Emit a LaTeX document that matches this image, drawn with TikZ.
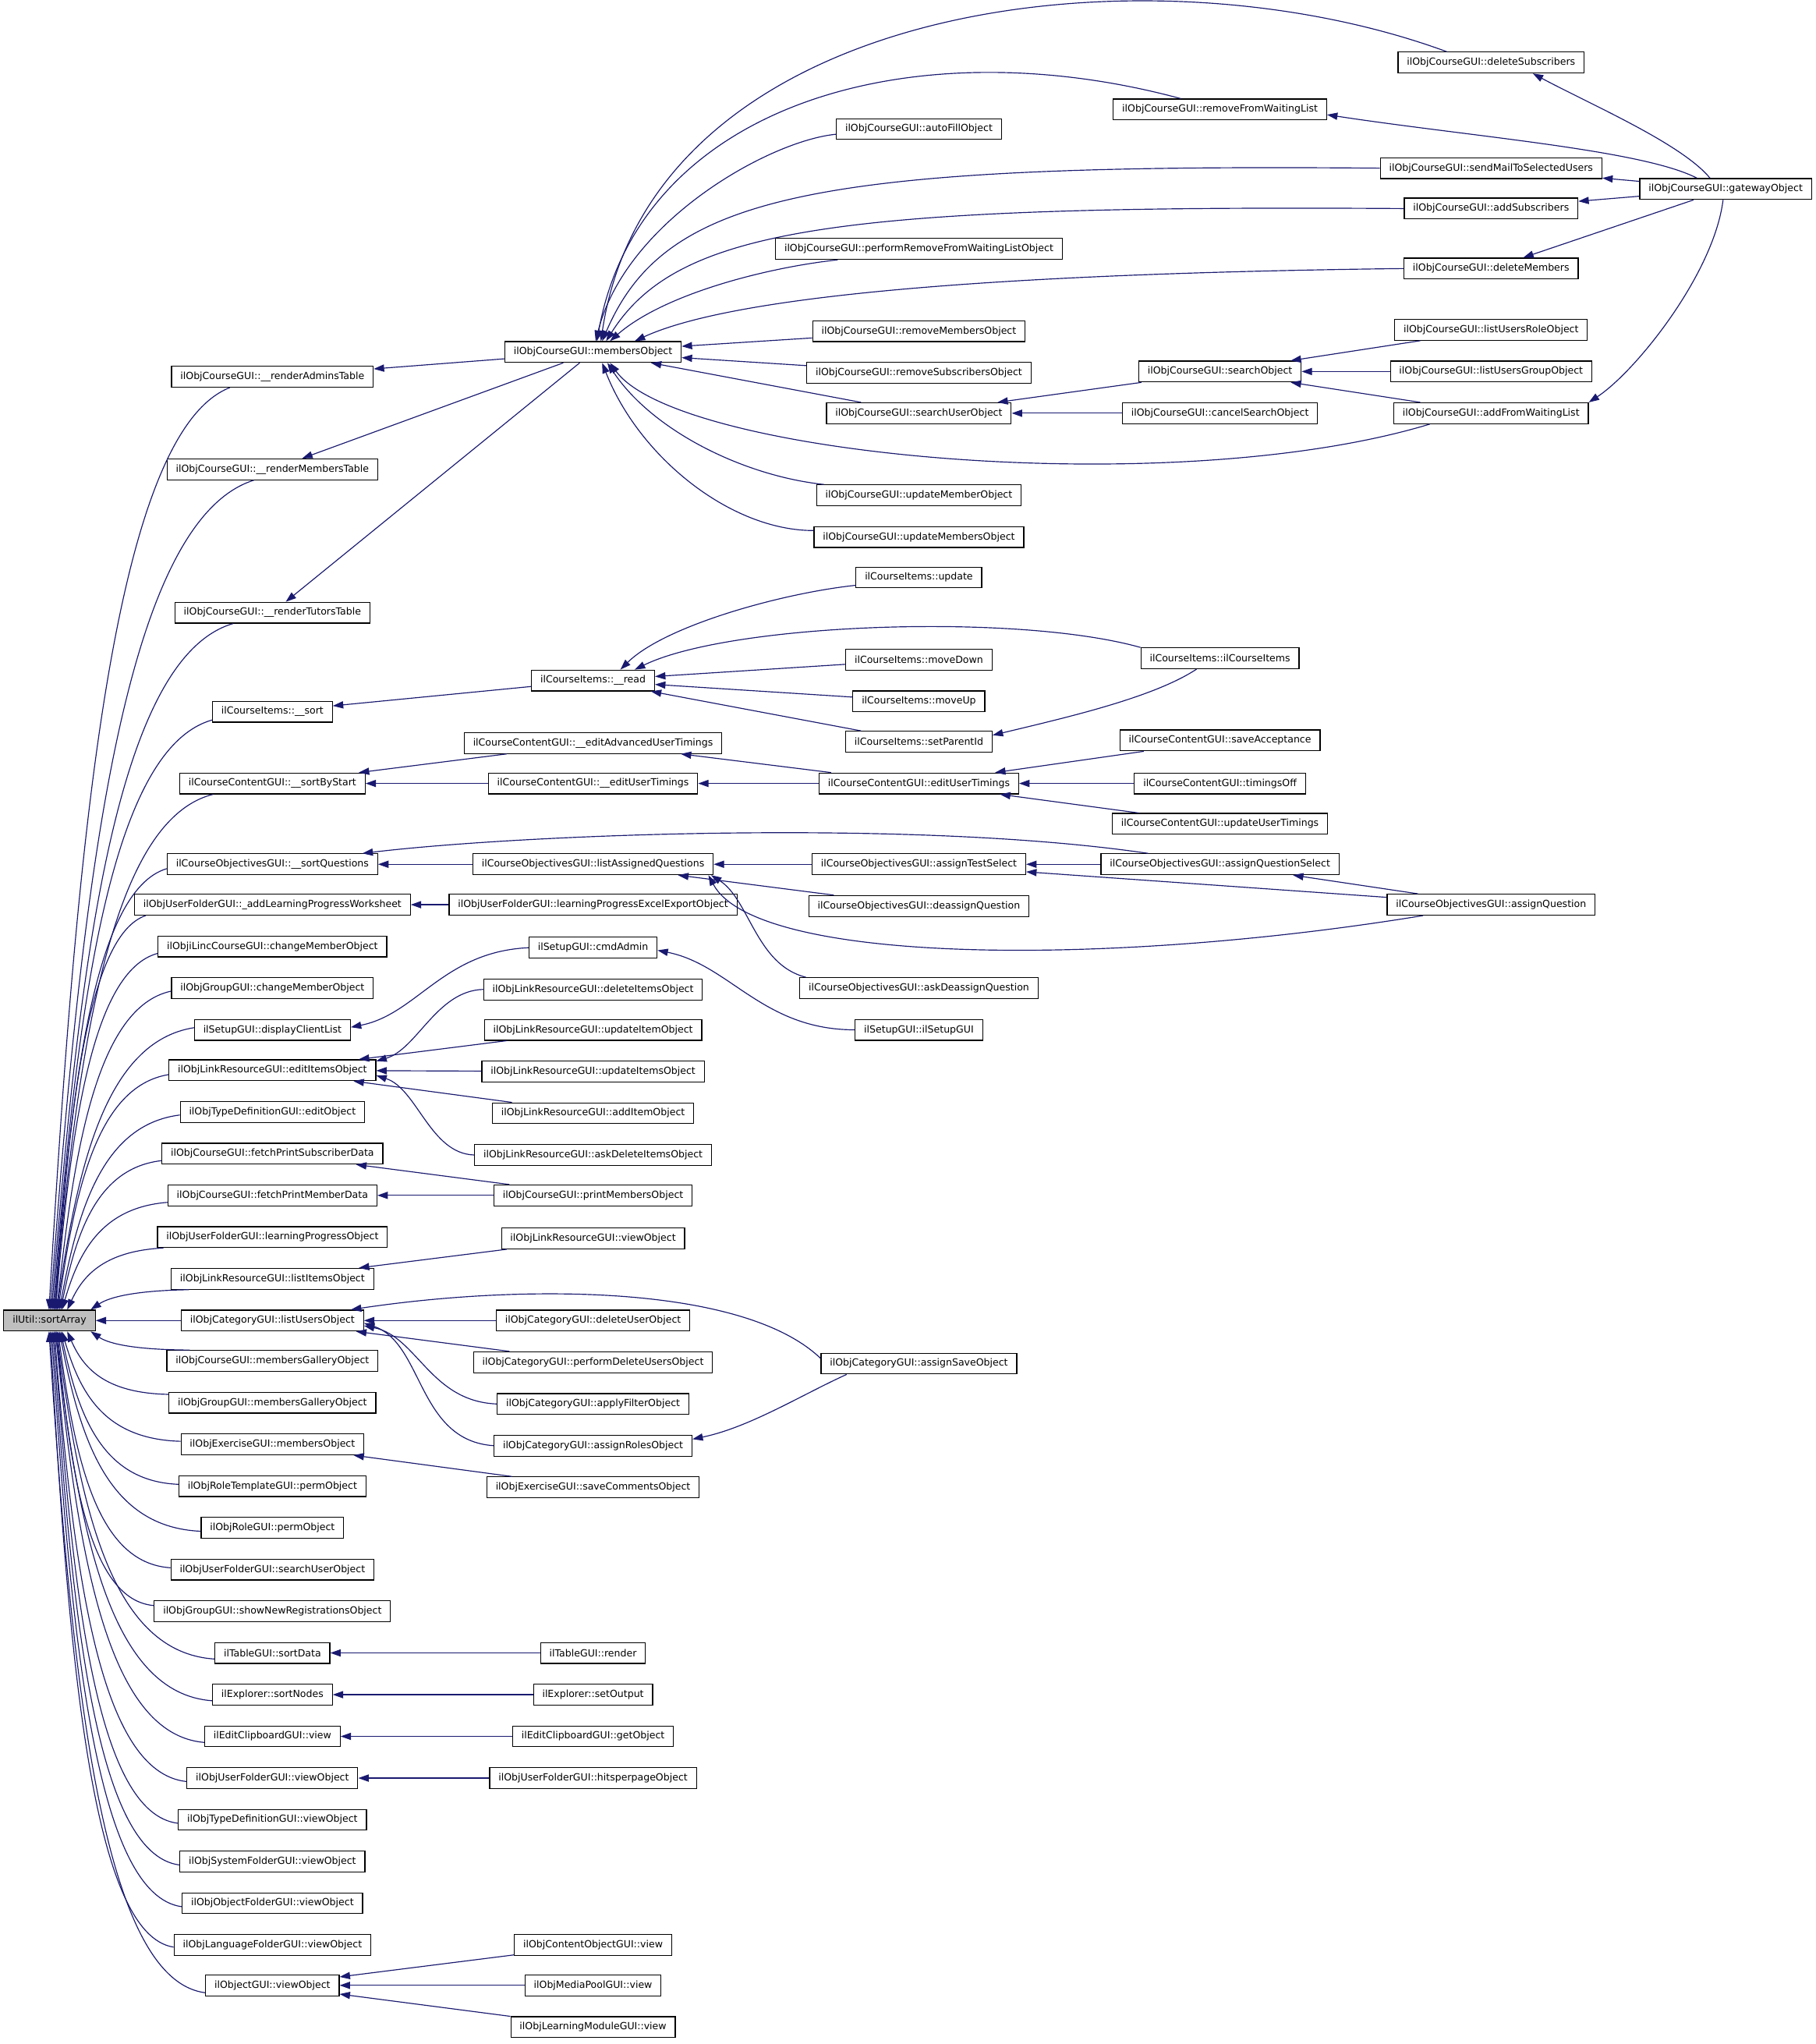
\documentclass[tikz,border=0pt]{standalone}
\usepackage{fontspec}
\setmainfont{DejaVu Sans}
\usetikzlibrary{arrows.meta,calc}

\definecolor{edgeblue}{HTML}{191970}
\definecolor{focusgray}{HTML}{BFBFBF}

\begin{document}
\begin{tikzpicture}[
  x=1pt, y=1pt,
  >={Triangle[length=8pt,width=5.5pt]},
  fn/.style    = {draw=black, line width=0.7pt, fill=white, inner xsep=6.8pt,
                  inner ysep=2pt, minimum height=16pt,
                  font=\fontsize{7.5}{9}\selectfont},
  focus/.style = {fn, fill=focusgray},
  call/.style  = {<-, draw=edgeblue, line width=0.7pt},
]

\fill[white] (0,0) rectangle (1393,-1568);
\useasboundingbox (0,0) rectangle (1393,-1568);

%% the function itself
\node[focus] (sortArray) at (38,-1013) {ilUtil::sortArray};

%% direct callers
\node[fn] (adminsTable)      at (209,-289)  {ilObjCourseGUI::\_\_renderAdminsTable};
\node[fn] (membersTable)     at (209,-360)  {ilObjCourseGUI::\_\_renderMembersTable};
\node[fn] (tutorsTable)      at (209,-470)  {ilObjCourseGUI::\_\_renderTutorsTable};
\node[fn] (itemsSort)        at (209,-546)  {ilCourseItems::\_\_sort};
\node[fn] (sortByStart)      at (209,-601)  {ilCourseContentGUI::\_\_sortByStart};
\node[fn] (sortQuestions)    at (209,-663)  {ilCourseObjectivesGUI::\_\_sortQuestions};
\node[fn] (addWorksheet)     at (209,-694)  {ilObjUserFolderGUI::\_addLearningProgressWorksheet};
\node[fn] (lincChange)       at (209,-726)  {ilObjiLincCourseGUI::changeMemberObject};
\node[fn] (groupChange)      at (209,-758)  {ilObjGroupGUI::changeMemberObject};
\node[fn] (clientList)       at (209,-790)  {ilSetupGUI::displayClientList};
\node[fn] (editItems)        at (209,-821)  {ilObjLinkResourceGUI::editItemsObject};
\node[fn] (typeEdit)         at (209,-853)  {ilObjTypeDefinitionGUI::editObject};
\node[fn] (printSubscriber)  at (209,-885)  {ilObjCourseGUI::fetchPrintSubscriberData};
\node[fn] (printMember)      at (209,-917)  {ilObjCourseGUI::fetchPrintMemberData};
\node[fn] (progressObject)   at (209,-949)  {ilObjUserFolderGUI::learningProgressObject};
\node[fn] (listItems)        at (209,-981)  {ilObjLinkResourceGUI::listItemsObject};
\node[fn] (listUsers)        at (209,-1013) {ilObjCategoryGUI::listUsersObject};
\node[fn] (courseGallery)    at (209,-1044) {ilObjCourseGUI::membersGalleryObject};
\node[fn] (groupGallery)     at (209,-1076) {ilObjGroupGUI::membersGalleryObject};
\node[fn] (exerciseMembers)  at (209,-1108) {ilObjExerciseGUI::membersObject};
\node[fn] (roleTemplatePerm) at (209,-1140) {ilObjRoleTemplateGUI::permObject};
\node[fn] (rolePerm)         at (209,-1172) {ilObjRoleGUI::permObject};
\node[fn] (folderSearch)     at (209,-1204) {ilObjUserFolderGUI::searchUserObject};
\node[fn] (newRegistrations) at (209,-1236) {ilObjGroupGUI::showNewRegistrationsObject};
\node[fn] (sortData)         at (209,-1268) {ilTableGUI::sortData};
\node[fn] (sortNodes)        at (209,-1300) {ilExplorer::sortNodes};
\node[fn] (clipboardView)    at (209,-1332) {ilEditClipboardGUI::view};
\node[fn] (folderView)       at (209,-1364) {ilObjUserFolderGUI::viewObject};
\node[fn] (typeView)         at (209,-1396) {ilObjTypeDefinitionGUI::viewObject};
\node[fn] (systemView)       at (209,-1428) {ilObjSystemFolderGUI::viewObject};
\node[fn] (objectFolderView) at (209,-1460) {ilObjObjectFolderGUI::viewObject};
\node[fn] (languageView)     at (209,-1492) {ilObjLanguageFolderGUI::viewObject};
\node[fn] (objectView)       at (209,-1523) {ilObjectGUI::viewObject};

%% second rank
\node[fn] (membersObject)    at (455,-270)  {ilObjCourseGUI::membersObject};
\node[fn] (itemsRead)        at (455,-522)  {ilCourseItems::\_\_read};
\node[fn] (editAdvanced)     at (455,-570)  {ilCourseContentGUI::\_\_editAdvancedUserTimings};
\node[fn] (editTimingsPriv)  at (455,-601)  {ilCourseContentGUI::\_\_editUserTimings};
\node[fn] (listAssigned)     at (455,-663)  {ilCourseObjectivesGUI::listAssignedQuestions};
\node[fn] (excelExport)      at (455,-694)  {ilObjUserFolderGUI::learningProgressExcelExportObject};
\node[fn] (cmdAdmin)         at (455,-727)  {ilSetupGUI::cmdAdmin};
\node[fn] (deleteItems)      at (455,-759)  {ilObjLinkResourceGUI::deleteItemsObject};
\node[fn] (updateItem)       at (455,-790)  {ilObjLinkResourceGUI::updateItemObject};
\node[fn] (updateItems)      at (455,-822)  {ilObjLinkResourceGUI::updateItemsObject};
\node[fn] (addItem)          at (455,-854)  {ilObjLinkResourceGUI::addItemObject};
\node[fn] (askDelete)        at (455,-886)  {ilObjLinkResourceGUI::askDeleteItemsObject};
\node[fn] (printMembers)     at (455,-917)  {ilObjCourseGUI::printMembersObject};
\node[fn] (linkView)         at (455,-950)  {ilObjLinkResourceGUI::viewObject};
\node[fn] (deleteUser)       at (455,-1013) {ilObjCategoryGUI::deleteUserObject};
\node[fn] (performDelete)    at (455,-1045) {ilObjCategoryGUI::performDeleteUsersObject};
\node[fn] (applyFilter)      at (455,-1077) {ilObjCategoryGUI::applyFilterObject};
\node[fn] (assignRoles)      at (455,-1109) {ilObjCategoryGUI::assignRolesObject};
\node[fn] (saveComments)     at (455,-1141) {ilObjExerciseGUI::saveCommentsObject};
\node[fn] (tableRender)      at (455,-1268) {ilTableGUI::render};
\node[fn] (setOutput)        at (455,-1300) {ilExplorer::setOutput};
\node[fn] (getObject)        at (455,-1332) {ilEditClipboardGUI::getObject};
\node[fn] (hitsPerPage)      at (455,-1364) {ilObjUserFolderGUI::hitsperpageObject};
\node[fn] (contentView)      at (455,-1492) {ilObjContentObjectGUI::view};
\node[fn] (mediaPoolView)    at (455,-1523) {ilObjMediaPoolGUI::view};
\node[fn] (moduleView)       at (455,-1555) {ilObjLearningModuleGUI::view};

%% third rank
\node[fn] (autoFill)         at (705,-99)   {ilObjCourseGUI::autoFillObject};
\node[fn] (performRemove)    at (705,-191)  {ilObjCourseGUI::performRemoveFromWaitingListObject};
\node[fn] (removeMembers)    at (705,-254)  {ilObjCourseGUI::removeMembersObject};
\node[fn] (removeSubscribers) at (705,-286) {ilObjCourseGUI::removeSubscribersObject};
\node[fn] (searchUser)       at (705,-317)  {ilObjCourseGUI::searchUserObject};
\node[fn] (updateMember)     at (705,-380)  {ilObjCourseGUI::updateMemberObject};
\node[fn] (updateMembers)    at (705,-412)  {ilObjCourseGUI::updateMembersObject};
\node[fn] (itemsUpdate)      at (705,-443)  {ilCourseItems::update};
\node[fn] (moveDown)         at (705,-506)  {ilCourseItems::moveDown};
\node[fn] (moveUp)           at (705,-538)  {ilCourseItems::moveUp};
\node[fn] (setParent)        at (705,-569)  {ilCourseItems::setParentId};
\node[fn] (editTimings)      at (705,-601)  {ilCourseContentGUI::editUserTimings};
\node[fn] (testSelect)       at (705,-663)  {ilCourseObjectivesGUI::assignTestSelect};
\node[fn] (deassign)         at (705,-695)  {ilCourseObjectivesGUI::deassignQuestion};
\node[fn] (askDeassign)      at (705,-758)  {ilCourseObjectivesGUI::askDeassignQuestion};
\node[fn] (setupGUI)         at (705,-790)  {ilSetupGUI::ilSetupGUI};
\node[fn] (assignSave)       at (705,-1046) {ilObjCategoryGUI::assignSaveObject};

%% fourth rank
\node[fn] (removeWaiting)    at (936,-84)   {ilObjCourseGUI::removeFromWaitingList};
\node[fn] (searchObject)     at (936,-285)  {ilObjCourseGUI::searchObject};
\node[fn] (cancelSearch)     at (936,-317)  {ilObjCourseGUI::cancelSearchObject};
\node[fn] (itemsCtor)        at (936,-505)  {ilCourseItems::ilCourseItems};
\node[fn] (saveAcceptance)   at (936,-568)  {ilCourseContentGUI::saveAcceptance};
\node[fn] (timingsOff)       at (936,-601)  {ilCourseContentGUI::timingsOff};
\node[fn] (updateTimings)    at (936,-632)  {ilCourseContentGUI::updateUserTimings};
\node[fn] (questionSelect)   at (936,-663)  {ilCourseObjectivesGUI::assignQuestionSelect};

%% fifth and sixth rank
\node[fn] (deleteSubscribers) at (1144,-48) {ilObjCourseGUI::deleteSubscribers};
\node[fn] (sendMail)         at (1144,-129) {ilObjCourseGUI::sendMailToSelectedUsers};
\node[fn] (addSubscribers)   at (1144,-160) {ilObjCourseGUI::addSubscribers};
\node[fn] (deleteMembers)    at (1144,-206) {ilObjCourseGUI::deleteMembers};
\node[fn] (listRole)         at (1144,-253) {ilObjCourseGUI::listUsersRoleObject};
\node[fn] (listGroup)        at (1144,-285) {ilObjCourseGUI::listUsersGroupObject};
\node[fn] (addWaiting)       at (1144,-317) {ilObjCourseGUI::addFromWaitingList};
\node[fn] (assignQuestion)   at (1144,-694) {ilCourseObjectivesGUI::assignQuestion};
\node[fn] (gateway)          at (1324,-145) {ilObjCourseGUI::gatewayObject};

%% the fan into sortArray, callers above
\foreach \tgt/\sx/\ox/\oy in {adminsTable/35/45/0, membersTable/36/67/0,
    tutorsTable/37/45/0, itemsSort/38/0/2, sortByStart/39/26/0,
    sortQuestions/39/0/5, addWorksheet/40/9/0, lincChange/40/0/3,
    groupChange/41/0/6, clientList/41/0/10, editItems/42/0/5,
    typeEdit/43/0/6, printSubscriber/44/0/3, printMember/45/0/3,
    progressObject/49/5/0, listItems/67/14/0}
  \draw[call] let \p1 = ([xshift=\sx pt]sortArray.north west),
                  \p2 = ([shift={(\ox pt,\oy pt)}]\tgt.south west)
              in (\p1) .. controls ({\x1+0.15*(\x2-\x1)}, {\y1+0.5*(\y2-\y1)})
                          and ({\x1+0.35*(\x2-\x1)}, {\y2-0.05*(\y2-\y1)}) .. (\p2);

%% the fan into sortArray, callers below
\foreach \tgt/\sx/\ox/\oy in {courseGallery/67/18/0, groupGallery/49/0/2,
    exerciseMembers/45/0/6, roleTemplatePerm/44/0/7, rolePerm/43/0/11,
    folderSearch/42/0/7, newRegistrations/41/0/4, sortData/41/0/13,
    sortNodes/40/0/13, clipboardView/40/0/13, folderView/39/0/11,
    typeView/39/0/11, systemView/38/0/11, objectFolderView/37/0/11,
    languageView/36/0/10, objectView/35/0/14}
  \draw[call] let \p1 = ([xshift=\sx pt]sortArray.south west),
                  \p2 = ([shift={(\ox pt,-\oy pt)}]\tgt.north west)
              in (\p1) .. controls ({\x1+0.15*(\x2-\x1)}, {\y1+0.55*(\y2-\y1)})
                          and ({\x1+0.35*(\x2-\x1)}, {\y2-0.02*(\y2-\y1)}) .. (\p2);

\draw[call] (sortArray) -- (listUsers);

%% straight calls
\draw[call] (adminsTable) -- (membersObject);
\draw[call] (membersTable) -- (membersObject);
\draw[call] (tutorsTable) -- (membersObject);
\draw[call] (membersObject) -- (removeMembers);
\draw[call] (membersObject) -- (removeSubscribers);
\draw[call] (membersObject) -- (searchUser);
\draw[call] (searchUser) -- (searchObject);
\draw[call] (searchUser) -- (cancelSearch);
\draw[call] (searchObject) -- (listRole);
\draw[call] (searchObject) -- (listGroup);
\draw[call] (searchObject) -- (addWaiting);
\draw[call] (sendMail) -- (gateway);
\draw[call] (addSubscribers) -- (gateway);
\draw[call] (deleteMembers) -- (gateway);
\draw[call] (itemsSort) -- (itemsRead);
\draw[call] (itemsRead) -- (moveDown);
\draw[call] (itemsRead) -- (moveUp);
\draw[call] (itemsRead) -- (setParent);
\draw[call] (sortByStart) -- (editAdvanced);
\draw[call] (sortByStart) -- (editTimingsPriv);
\draw[call] (editAdvanced) -- (editTimings);
\draw[call] (editTimingsPriv) -- (editTimings);
\draw[call] (editTimings) -- (saveAcceptance);
\draw[call] (editTimings) -- (timingsOff);
\draw[call] (editTimings) -- (updateTimings);
\draw[call] (sortQuestions) -- (listAssigned);
\draw[call] (listAssigned) -- (testSelect);
\draw[call] (listAssigned) -- (deassign);
\draw[call] (testSelect) -- (questionSelect);
\draw[call] (testSelect) -- (assignQuestion);
\draw[call] (questionSelect) -- (assignQuestion);
\draw[call] (addWorksheet) -- (excelExport);
\draw[call] (editItems) -- (updateItem);
\draw[call] (editItems) -- (updateItems);
\draw[call] (editItems) -- (addItem);
\draw[call] (printSubscriber) -- (printMembers);
\draw[call] (printMember) -- (printMembers);
\draw[call] (listItems) -- (linkView);
\draw[call] (listUsers) -- (deleteUser);
\draw[call] (listUsers) -- (performDelete);
\draw[call] (exerciseMembers) -- (saveComments);
\draw[call] (sortData) -- (tableRender);
\draw[call] (sortNodes) -- (setOutput);
\draw[call] (clipboardView) -- (getObject);
\draw[call] (folderView) -- (hitsPerPage);
\draw[call] (objectView) -- (contentView);
\draw[call] (objectView) -- (mediaPoolView);
\draw[call] (objectView) -- (moduleView);

%% curved calls into membersObject
\draw[call] ([xshift=6pt]membersObject.north) .. controls (500,0) and (880,45) .. ([xshift=-34pt]deleteSubscribers.north);
\draw[call] ([xshift=3pt]membersObject.north) .. controls (490,-80) and (700,-20) .. ([xshift=-30pt]removeWaiting.north);
\draw[call] ([xshift=2pt]membersObject.north) .. controls (480,-170) and (590,-108) .. ([yshift=-4pt]autoFill.west);
\draw[call] ([xshift=7pt]membersObject.north) .. controls (510,-150) and (620,-125) .. (sendMail.west);
\draw[call] ([xshift=10pt]membersObject.north) .. controls (520,-175) and (640,-157) .. (addSubscribers.west);
\draw[call] ([xshift=13pt]membersObject.north) .. controls (510,-225) and (590,-205) .. ([xshift=48pt]performRemove.south west);
\draw[call] ([xshift=32pt]membersObject.north) .. controls (560,-228) and (750,-210) .. (deleteMembers.west);
\draw[call] ([xshift=13pt]membersObject.south) .. controls (520,-350) and (900,-385) .. ([xshift=-47pt]addWaiting.south);
\draw[call] ([xshift=11pt]membersObject.south) .. controls (500,-330) and (570,-365) .. ([xshift=6pt]updateMember.north west);
\draw[call] ([xshift=7pt]membersObject.south) .. controls (490,-350) and (560,-407) .. ([yshift=5pt]updateMembers.west);

%% gateway
\draw[call] ([xshift=32pt]deleteSubscribers.south) .. controls (1220,-80) and (1290,-110) .. ([xshift=-12pt]gateway.north);
\draw[call] ([yshift=-4pt]removeWaiting.east) .. controls (1130,-105) and (1260,-115) .. ([xshift=-22pt]gateway.north);
\draw[call] (addWaiting.north east) .. controls (1255,-285) and (1315,-210) .. ([xshift=-2pt]gateway.south);

%% course items, objectives, setup, link resource, category
\draw[call] ([xshift=21pt]itemsRead.north) .. controls (510,-480) and (600,-455) .. ([yshift=-6pt]itemsUpdate.west);
\draw[call] ([xshift=32pt]itemsRead.north) .. controls (560,-478) and (780,-470) .. ([xshift=-61pt]itemsCtor.north);
\draw[call] ([yshift=5pt]setParent.east) .. controls (820,-550) and (885,-535) .. ([xshift=-18pt]itemsCtor.south);
\draw[call] ([xshift=-12pt]sortQuestions.north east) .. controls (400,-640) and (700,-628) .. ([xshift=-55pt]questionSelect.north);
\draw[call] ([xshift=-2pt]listAssigned.south east) .. controls (575,-690) and (580,-740) .. ([xshift=5pt]askDeassign.north west);
\draw[call] ([xshift=-4pt]listAssigned.south east) .. controls (580,-740) and (850,-742) .. ([xshift=28pt]assignQuestion.south west);
\draw[call] ([yshift=2pt]clientList.east) .. controls (320,-778) and (340,-730) .. (cmdAdmin.west);
\draw[call] ([yshift=-2pt]cmdAdmin.east) .. controls (560,-740) and (585,-790) .. (setupGUI.west);
\draw[call] ([yshift=7pt]editItems.east) .. controls (320,-805) and (335,-760) .. (deleteItems.west);
\draw[call] ([yshift=-4pt]editItems.east) .. controls (320,-835) and (330,-885) .. (askDelete.west);
\draw[call] ([xshift=-10pt]listUsers.north east) .. controls (400,-985) and (570,-985) .. ([yshift=4pt]assignSave.west);
\draw[call] ([yshift=-4pt]listUsers.east) .. controls (320,-1025) and (330,-1075) .. (applyFilter.west);
\draw[call] ([yshift=-2pt]listUsers.east) .. controls (325,-1030) and (320,-1105) .. (assignRoles.west);
\draw[call] ([yshift=5pt]assignRoles.east) .. controls (575,-1095) and (615,-1070) .. ([xshift=20pt]assignSave.south west);

\end{tikzpicture}
\end{document}
